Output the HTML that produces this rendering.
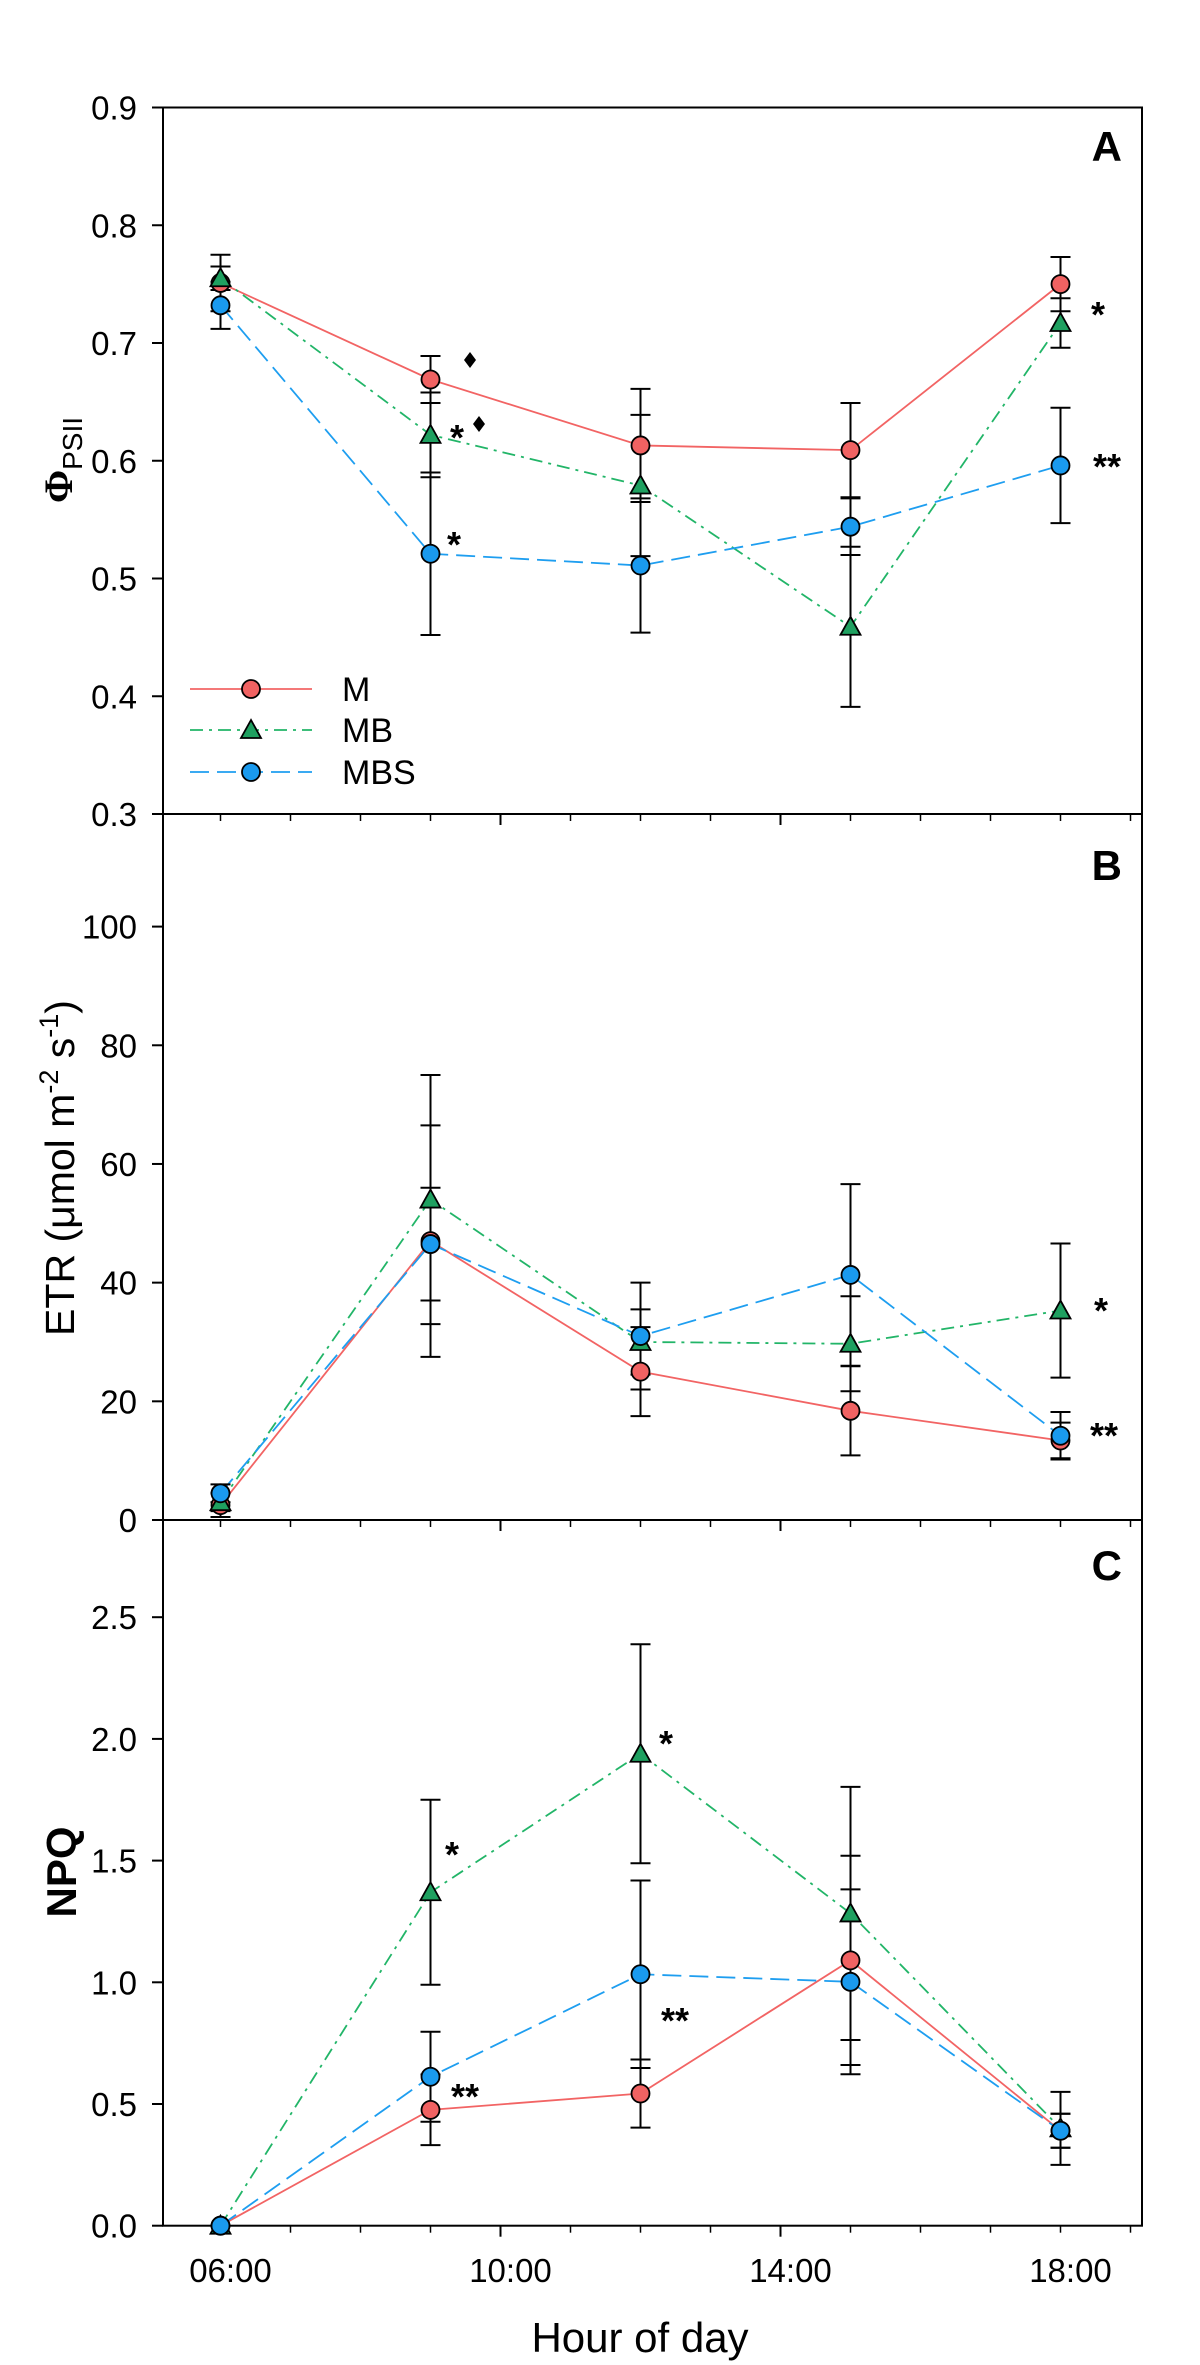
<!DOCTYPE html>
<html><head><meta charset="utf-8">
<style>
html,body{margin:0;padding:0;background:#fff;}
svg{display:block;font-family:"Liberation Sans",Arial,sans-serif;}
</style></head>
<body>
<svg id="chart" width="1200" height="2365" viewBox="0 0 1200 2365" xmlns="http://www.w3.org/2000/svg"></svg>
<script>
// ---- data ----
const hours = [6, 9, 12, 15, 18];
const seriesNames = ["M", "MB", "MBS"];
// Panel A: PhiPSII
const phiM = [0.751, 0.669, 0.613, 0.609, 0.750];
const phiMB = [0.755, 0.622, 0.579, 0.459, 0.717];
const phiMBS = [0.732, 0.521, 0.511, 0.544, 0.596];
const phiErrM = [0.024, 0.020, 0.048, 0.040, 0.023];
const phiErrMB = [0.010, 0.036, 0.060, 0.068, 0.021];
const phiErrMBS = [0.020, 0.069, 0.057, 0.024, 0.049];
// Panel B: ETR
const etrM = [2.5, 47, 25, 18.4, 13.4];
const etrMB = [3, 54, 30, 29.7, 35.3];
const etrMBS = [4.5, 46.5, 31, 41.3, 14.2];
const etrErrM = [2, 19.5, 7.5, 7.5, 3];
const etrErrMB = [1.5, 21, 5.5, 8, 11.3];
const etrErrMBS = [1.5, 9.5, 9, 15.3, 4];
// Panel C: NPQ
const npqM = [0, 0.476, 0.543, 1.09, 0.39];
const npqMB = [0, 1.37, 1.939, 1.283, 0.40];
const npqMBS = [0, 0.612, 1.033, 1.002, 0.39];
const npqErrM = [0, 0.145, 0.14, 0.43, 0.07];
const npqErrMB = [0, 0.38, 0.45, 0.52, 0.15];
const npqErrMBS = [0, 0.185, 0.385, 0.38, 0.07];
// tick labels
const xTickHours = [10, 14];
const xMinorHours = [6,7,8,9,11,12,13,15,16,17,18,19];
const xTickLabels = ["06:00", "10:00", "14:00", "18:00"];
const xLabelHours = [6, 10, 14, 18];
const phiTicks = [0.3, 0.4, 0.5, 0.6, 0.7, 0.8, 0.9];
const etrTicks = [0, 20, 40, 60, 80, 100];
const npqTicks = [0.0, 0.5, 1.0, 1.5, 2.0, 2.5];

// ---- layout ----
const NS = "http://www.w3.org/2000/svg";
const svg = document.getElementById('chart');
const L = 163, R = 1142;
const xScale = h => 220.5 + (h - 6) * 70.0;
const yA = v => 814 - (v - 0.3) * 1177.5;
const yB = v => 1520 - v * 5.934;
const yC = v => 2225.7 - v * 243.4;
const colors = {M: {line: "#f26464", fill: "#f06262"}, MB: {line: "#22b568", fill: "#1fa060"}, MBS: {line: "#1e9ef0", fill: "#1a9aee"}};
const dashes = {M: "", MB: "13 6 3 6", MBS: "19 8"};

function el(tag, attrs, parent) {
  const e = document.createElementNS(NS, tag);
  for (const k in attrs) e.setAttribute(k, attrs[k]);
  (parent || svg).appendChild(e);
  return e;
}
function txt(s, attrs, parent) { const t = el('text', attrs, parent); t.textContent = s; return t; }

// frame
const frame = el('rect', {x: L, y: 107.5, width: R - L, height: 2225.7 - 107.5, fill: "none", stroke: "#000", "stroke-width": 2});


[814, 1520].forEach((y, i) => {
  const d = el('line', {x1: L, x2: R, y1: y, y2: y, stroke: "#000", "stroke-width": 2});
  
  
});

// x ticks for each panel bottom
[814, 1520, 2225.7].forEach((yb, pi) => {
  const g = el('g', {});
  
  
  xMinorHours.forEach(h => el('line', {x1: xScale(h), x2: xScale(h), y1: yb, y2: yb + 7, stroke: "#000", "stroke-width": 1.5}, g));
  xTickHours.forEach(h => el('line', {x1: xScale(h), x2: xScale(h), y1: yb, y2: yb + 11, stroke: "#000", "stroke-width": 2}, g));
});
// x tick labels
const xl = el('g', {});


xLabelHours.forEach((h, i) => txt(xTickLabels[i], {x: xScale(h) + 10, y: 2282, "font-size": 33, "text-anchor": "middle"}, xl));
const xt = txt("Hour of day", {x: 640, y: 2352, "font-size": 42, "text-anchor": "middle"});



// y ticks
function yTicks(ticks, ys, fmt, name) {
  const g = el('g', {});
  
  
  ticks.forEach(v => {
    el('line', {x1: L - 11, x2: L, y1: ys(v), y2: ys(v), stroke: "#000", "stroke-width": 2}, g);
    txt(fmt(v), {x: 137, y: ys(v) + 12, "font-size": 33, "text-anchor": "end"}, g);
  });
}
yTicks(phiTicks, yA, v => v.toFixed(1), 'y-ticks-phipsii');
yTicks(etrTicks, yB, v => String(v), 'y-ticks-etr');
yTicks(npqTicks, yC, v => v.toFixed(1), 'y-ticks-npq');

// y titles
const ta = el('text', {transform: "translate(72,460) rotate(-90)", "text-anchor": "middle", "font-size": 40});


ta.innerHTML = '<tspan font-family="Liberation Serif, serif" font-weight="bold">Φ</tspan><tspan font-size="28" dy="10">PSII</tspan>';
const tb = el('text', {transform: "translate(74,1168) rotate(-90)", "text-anchor": "middle", "font-size": 41});


tb.innerHTML = 'ETR (μmol m<tspan font-size="27" dy="-16">-2</tspan><tspan dy="16"> s</tspan><tspan font-size="27" dy="-16">-1</tspan><tspan dy="16">)</tspan>';
const tc = txt("NPQ", {transform: "translate(76,1872) rotate(-90)", "text-anchor": "middle", "font-size": 42, "font-weight": "bold"});



// panel letters
[["A", 161], ["B", 880], ["C", 1580]].forEach(([s, y]) => {
  const t = txt(s, {x: 1122, y: y, "font-size": 42, "font-weight": "bold", "text-anchor": "end"});
  
  
});

function marker(name, cx, cy, parent) {
  if (name === "MB") {
    const s = 10;
    return el('polygon', {points: `${cx},${cy - s} ${cx - s},${cy + s * 0.8} ${cx + s},${cy + s * 0.8}`, fill: colors.MB.fill, stroke: "#000", "stroke-width": 1.8}, parent);
  }
  return el('circle', {cx: cx, cy: cy, r: 9, fill: colors[name].fill, stroke: "#000", "stroke-width": 1.8}, parent);
}

function drawPanel(key, ys, vals, errs) {
  const g = el('g', {});
  
  
  seriesNames.forEach((n, si) => {
    const pts = hours.map((h, i) => xScale(h) + ',' + ys(vals[si][i])).join(' ');
    const pl = el('polyline', {points: pts, fill: "none", stroke: colors[n].line, "stroke-width": 1.8, "stroke-dasharray": dashes[n]}, g);
    
    
  });
  seriesNames.forEach((n, si) => {
    hours.forEach((h, i) => {
      const e = errs[si][i];
      if (e <= 0) return;
      const x = xScale(h), y1 = ys(vals[si][i] + e), y2 = ys(vals[si][i] - e);
      const eb = el('path', {d: `M${x},${y1}V${y2}M${x - 10},${y1}H${x + 10}M${x - 10},${y2}H${x + 10}`, stroke: "#000", "stroke-width": 2, fill: "none"}, g);
      
      
    });
  });
  seriesNames.forEach((n, si) => {
    hours.forEach((h, i) => {
      const m = marker(n, xScale(h), ys(vals[si][i]), g);
      
      
    });
  });
}
drawPanel('a', yA, [phiM, phiMB, phiMBS], [phiErrM, phiErrMB, phiErrMBS]);
drawPanel('b', yB, [etrM, etrMB, etrMBS], [etrErrM, etrErrMB, etrErrMBS]);
drawPanel('c', yC, [npqM, npqMB, npqMBS], [npqErrM, npqErrMB, npqErrMBS]);

// significance marks
const stars = [["*", 457, 430], ["*", 454, 537], ["*", 1098, 307], ["**", 1107, 459],
  ["*", 1101, 1303], ["**", 1104, 1428],
  ["*", 452, 1847], ["**", 465, 2089], ["*", 666, 1736], ["**", 675, 2013]];
stars.forEach(([s, x, y]) => {
  const t = txt(s, {x: x, y: y + 20, "font-size": 36, "font-weight": "bold", "text-anchor": "middle"});
  
  
});
[[470, 360], [479, 424]].forEach(([x, y]) => {
  const d = el('polygon', {points: `${x},${y - 8} ${x + 6},${y} ${x},${y + 8} ${x - 6},${y}`, fill: "#000"});
  
  
});

// legend
const lg = el('g', {});


seriesNames.forEach((n, i) => {
  const y = [689, 730, 772][i];
  const row = el('g', {}, lg);
  
  
  el('line', {x1: 190, x2: 312, y1: y, y2: y, stroke: colors[n].line, "stroke-width": 1.8, "stroke-dasharray": dashes[n]}, row);
  marker(n, 251, y, row);
  txt(n, {x: 342, y: y + 12, "font-size": 34}, row);
});
</script>
</body></html>
